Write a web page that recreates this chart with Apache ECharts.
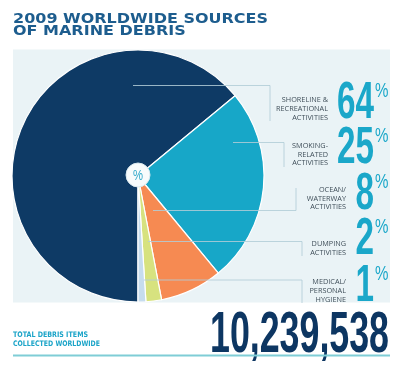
<!DOCTYPE html>
<html><head><meta charset="utf-8">
<script src="https://cdn.jsdelivr.net/npm/echarts@6/dist/echarts.min.js"></script>
<style>html,body{margin:0;padding:0;background:#fff}#c{width:400px;height:365px}</style>
</head><body><div id="c"></div>
<script>
// ---- data ----
const titleLines = ['2009 WORLDWIDE SOURCES', 'OF MARINE DEBRIS'];
const categories = ['Shoreline & Recreational Activities', 'Smoking-Related Activities', 'Ocean/Waterway Activities', 'Dumping Activities', 'Medical/Personal Hygiene'];
const categoryLines = [['SHORELINE &', 'RECREATIONAL', 'ACTIVITIES'], ['SMOKING-', 'RELATED', 'ACTIVITIES'], ['OCEAN/', 'WATERWAY', 'ACTIVITIES'], ['DUMPING', 'ACTIVITIES'], ['MEDICAL/', 'PERSONAL', 'HYGIENE']];
const percents = [64, 25, 8, 2, 1];
const totalLabel = ['TOTAL DEBRIS ITEMS', 'COLLECTED WORLDWIDE'];
const totalItems = 10239538;

// ---- layout & style ----
const colors = ['#0e3a65', '#17a7c8', '#f68a52', '#d7e27f', '#c6dcee'];
const labelRight = [328, 328, 346, 346, 346];
const labelY = [[100, 109, 118], [146, 154.5, 163], [190, 198.5, 207], [244, 252.5], [282, 291, 300]];
const digitBase = [119, 164, 210, 255, 302];
const brackets = [ // [xStart, yH, xV, yV1, yV2]
  [133, 85.5, 270, 85.5, 121],
  [233, 142.5, 284, 142.5, 167],
  [153, 210.5, 296, 188, 210.5],
  [148, 241.5, 302, 241.5, 256],
  [144, 280, 302, 280, 303]
];

const ctx = document.createElement('canvas').getContext('2d');
function tw(text, font) { ctx.font = font; return ctx.measureText(text).width; }
// place text by baseline: zrender 'top' alignment puts baseline ~0.79em below y
function topFromBase(base, size) { return base - 0.79 * size; }

const g = [];
// panel
g.push({ type: 'rect', z: 0, shape: { x: 13, y: 49.5, width: 377, height: 253 }, style: { fill: '#eaf3f6' } });

// title
const titleSize = 14.5;
const titleFont = 'bold ' + titleSize + 'px "DejaVu Sans"';
const tScale = 255 / tw(titleLines[0], titleFont);
[22.7, 35.3].forEach((y, i) => g.push({ type: 'text', x: 13, y: topFromBase(y, titleSize), scaleX: tScale, z: 5,
  style: { text: titleLines[i], font: titleFont, fill: '#1d5d8e', align: 'left', verticalAlign: 'top' } }));

// brackets
brackets.forEach(b => {
  g.push({ type: 'polyline', z: 10, shape: { points: b[3] === b[1] ? [[b[0], b[1]], [b[2], b[1]], [b[2], b[4]]] : [[b[0], b[1]], [b[2], b[1]], [b[2], b[3]]] },
    style: { stroke: 'rgba(178,205,215,0.85)', lineWidth: 1, fill: null } });
});

// category labels
categoryLines.forEach((lines, i) => {
  lines.forEach((t, j) => g.push({ type: 'text', x: labelRight[i], y: labelY[i][j], z: 12,
    style: { text: t, font: '500 7.3px "Open Sans"', fill: '#3f4e59', align: 'right', verticalAlign: 'middle' } }));
});

// percentages
const digitSize = 52;
const digitFont = 'bold ' + digitSize + 'px "Liberation Sans"';
const pctSize = 21;
percents.forEach((v, i) => {
  g.push({ type: 'text', x: 374, y: topFromBase(digitBase[i], digitSize), scaleX: 0.64, z: 12,
    style: { text: String(v), font: digitFont, fill: '#1aa7c9', align: 'right', verticalAlign: 'top' } });
  g.push({ type: 'text', x: 375, y: topFromBase(digitBase[i] - 37 + 15.5, pctSize), scaleX: 0.72, z: 12,
    style: { text: '%', font: pctSize + 'px "Liberation Sans"', fill: '#1aa7c9', align: 'left', verticalAlign: 'top' } });
});

// center badge
g.push({ type: 'circle', z: 20, shape: { cx: 138, cy: 175, r: 12 }, style: { fill: '#f7fbfc', stroke: '#d9e8ee', lineWidth: 1 } });
g.push({ type: 'text', x: 138, y: 175.5, scaleX: 0.75, z: 21,
  style: { text: '%', font: '15px "Liberation Sans"', fill: '#32aacb', align: 'center', verticalAlign: 'middle' } });

// totals
const smallSize = 7.6;
const smallFont = 'bold ' + smallSize + 'px "DejaVu Sans"';
[337, 346].forEach((y, i) => g.push({ type: 'text', x: 13, y: topFromBase(y, smallSize), z: 5,
  scaleX: (i === 0 ? 75 : 87) / tw(totalLabel[i], smallFont),
  style: { text: totalLabel[i], font: smallFont, fill: '#1ba4c8', align: 'left', verticalAlign: 'top' } }));
const totalText = totalItems.toLocaleString('en-US');
const bigSize = 57;
const bigFont = 'bold ' + bigSize + 'px "Liberation Sans"';
g.push({ type: 'text', x: 389, y: topFromBase(353, bigSize), z: 5, scaleX: 179 / tw(totalText, bigFont),
  style: { text: totalText, font: bigFont, fill: '#0d3662', align: 'right', verticalAlign: 'top' } });
g.push({ type: 'line', z: 5, shape: { x1: 13, y1: 355.5, x2: 390, y2: 355.5 }, style: { stroke: '#7fcdd6', lineWidth: 2 } });

const chart = echarts.init(document.getElementById('c'), null, { renderer: 'canvas' });
chart.setOption({
  animation: false,
  backgroundColor: '#ffffff',
  graphic: { elements: g },
  series: [{
    type: 'pie', z: 2, silent: true,
    center: [138, 176], radius: [0, 126],
    startAngle: 270, clockwise: true,
    label: { show: false }, labelLine: { show: false },
    itemStyle: { borderColor: '#ffffff', borderWidth: 1.2 },
    data: percents.map((v, i) => ({ name: categories[i], value: v, itemStyle: { color: colors[i] } }))
  }]
});
</script></body></html>
